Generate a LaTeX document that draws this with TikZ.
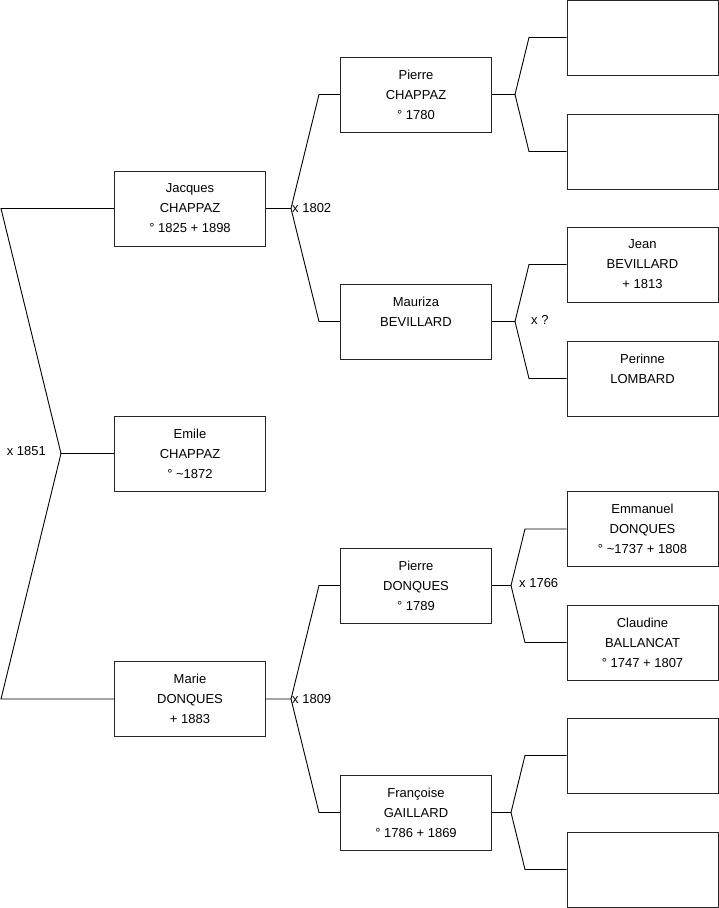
\documentclass[tikz,border=0pt]{standalone}
\usepackage{fontspec}
\setmainfont{Liberation Sans}
\usetikzlibrary{positioning}

\begin{document}
\begin{tikzpicture}[x=1pt, y=-1pt, every node/.style={font=\fontsize{13}{20}\selectfont}, person/.style={draw=black!85, align=center, minimum width=151pt, minimum height=75pt, inner sep=0pt, line width=0.9pt}, link/.style={line width=0.9pt}, union/.style={anchor=west, inner sep=1pt}]
\useasboundingbox (0,0) rectangle (719,908);
% generation 1 and 2
\node[person] (jacques) at (190,208.5) {Jacques\\CHAPPAZ\\° 1825 + 1898};
\node[person] (emile) at (190,453.5) {Emile\\CHAPPAZ\\° \textasciitilde1872};
\node[person] (marie) at (190,699) {Marie\\DONQUES\\+ 1883};
% generation 3
\node[person] (pierreC) at (416,94.5) {Pierre\\CHAPPAZ\\° 1780};
\node[person] (mauriza) at (416,321.5) {Mauriza\\BEVILLARD\\\mbox{}};
\node[person] (pierreD) at (416,585.5) {Pierre\\DONQUES\\° 1789};
\node[person] (francoise) at (416,812.5) {Françoise\\GAILLARD\\° 1786 + 1869};
% generation 4
\node[person] (chappazF) at (642.5,37.5) {};
\node[person] (chappazM) at (642.5,151.5) {};
\node[person] (jean) at (642.5,264.5) {Jean\\BEVILLARD\\+ 1813};
\node[person] (perinne) at (642.5,378.5) {Perinne\\LOMBARD\\\mbox{}};
\node[person] (emmanuel) at (642.5,529) {Emmanuel\\DONQUES\\° \textasciitilde1737 + 1808};
\node[person] (claudine) at (642.5,642.5) {Claudine\\BALLANCAT\\° 1747 + 1807};
\node[person] (gaillardF) at (642.5,755.5) {};
\node[person] (gaillardM) at (642.5,869.5) {};
% forks
\coordinate (f0) at (61,453.5);
\coordinate (f0up) at (1,208.5);
\coordinate (f0dn) at (1,699);
\coordinate (fj) at (291,208.5);
\coordinate (fjup) at (319,94.5);
\coordinate (fjdn) at (319,321.5);
\coordinate (fm) at (291,699);
\coordinate (fmup) at (319,585.5);
\coordinate (fmdn) at (319,812.5);
\coordinate (fpc) at (515,94.5);
\coordinate (fpcup) at (529,37.5);
\coordinate (fpcdn) at (529,151.5);
\coordinate (fma) at (515,321.5);
\coordinate (fmaup) at (529,264.5);
\coordinate (fmadn) at (529,378.5);
\coordinate (fpd) at (511,585.5);
\coordinate (fpdup) at (525,529);
\coordinate (fpddn) at (525,642.5);
\coordinate (ffr) at (511,812.5);
\coordinate (ffrup) at (525,755.5);
\coordinate (ffrdn) at (525,869.5);
% connectors
\draw[link] (jacques.west) -- (f0up) -- (f0) -- (f0dn) -- (marie.west);
\draw[link] (f0) -- (emile.west);
\draw[link] (jacques.east) -- (fj) -- (fjup) -- (pierreC.west);
\draw[link] (fj) -- (fjdn) -- (mauriza.west);
\draw[link] (marie.east) -- (fm) -- (fmup) -- (pierreD.west);
\draw[link] (fm) -- (fmdn) -- (francoise.west);
\draw[link] (pierreC.east) -- (fpc) -- (fpcup) -- (chappazF.west);
\draw[link] (fpc) -- (fpcdn) -- (chappazM.west);
\draw[link] (mauriza.east) -- (fma) -- (fmaup) -- (jean.west);
\draw[link] (fma) -- (fmadn) -- (perinne.west);
\draw[link] (pierreD.east) -- (fpd) -- (fpdup) -- (emmanuel.west);
\draw[link] (fpd) -- (fpddn) -- (claudine.west);
\draw[link] (francoise.east) -- (ffr) -- (ffrup) -- (gaillardF.west);
\draw[link] (ffr) -- (ffrdn) -- (gaillardM.west);
% marriages
\node[anchor=east, inner sep=1pt] (m1851) at (47,451) {x 1851};
\node[union] (m1802) at (fj) {x 1802};
\node[union] (m1809) at (fm) {x 1809};
\node[union] (mq) at (530,320) {x ?};
\node[union] (m1766) at (518,583) {x 1766};
\end{tikzpicture}
\end{document}
